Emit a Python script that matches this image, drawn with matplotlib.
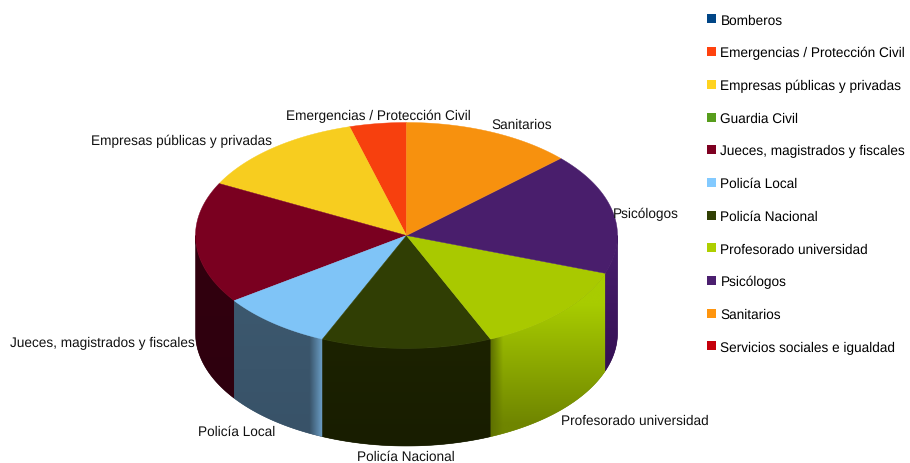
import numpy as np
import matplotlib
matplotlib.use('Agg')
import matplotlib.pyplot as plt
from matplotlib.patches import Patch, Polygon
from matplotlib.colors import to_rgb

plt.rcParams['font.family'] = ['Liberation Sans', 'DejaVu Sans']
plt.rcParams['text.hinting'] = 'none'

categories = ['Bomberos', 'Emergencias / Protección Civil', 'Empresas públicas y privadas',
              'Guardia Civil', 'Jueces, magistrados y fiscales', 'Policía Local',
              'Policía Nacional', 'Profesorado universidad', 'Psicólogos', 'Sanitarios',
              'Servicios sociales e igualdad']
values = [0, 1, 3, 0, 4, 2, 3, 3, 4, 3, 0]
colors = ['#004586', '#ff420e', '#ffd320', '#579d1c', '#7e0021', '#83caff',
          '#314004', '#aecf00', '#4b1f6f', '#ff950e', '#c5000b']

# pie geometry in pixels
cx, cy = 406.5, 236.5
rx, ry = 211, 113
depth = 97.5

# label anchors: x, y, horizontal alignment
label_pos = {
    'Emergencias / Protección Civil': (378, 116, 'center'),
    'Empresas públicas y privadas': (272, 141, 'right'),
    'Jueces, magistrados y fiscales': (195, 343, 'right'),
    'Policía Local': (236.5, 432, 'center'),
    'Policía Nacional': (406, 457, 'center'),
    'Profesorado universidad': (561, 421, 'left'),
    'Psicólogos': (613, 214, 'left'),
    'Sanitarios': (491, 125, 'left'),
}

# side face shading: colour at top, colour at bottom, highlight colour, highlight side, width
side_style = {
    'Jueces, magistrados y fiscales': ('#32000f', '#2e000e', None, None, 0),
    'Policía Local': ('#3c586e', '#385268', '#6ca0c8', 'right', 13),
    'Policía Nacional': ('#1c2200', '#181d00', None, None, 0),
    'Profesorado universidad': ('#a8cc00', '#6f8500', '#5f7200', 'left', 12),
    'Psicólogos': ('#4a1f70', '#340f52', None, None, 0),
}

fig = plt.figure(figsize=(9.1, 4.64), dpi=100)
ax = fig.add_axes([0, 0, 1, 1])
ax.set_xlim(0, 910)
ax.set_ylim(464, 0)
ax.axis('off')


def ell(t):
    return cx + rx * np.cos(t), cy - ry * np.sin(t)


total = sum(values)
start = np.pi / 2
wedges = []
for name, val, col in zip(categories, values, colors):
    if val == 0:
        continue
    end = start + val / total * 2 * np.pi
    wedges.append((name, start, end, col))
    start = end

# sides first, then the top on top of them
for name, a, b, col in wedges:
    lo, hi = max(a, np.pi), min(b, 2 * np.pi)
    if name == 'Psicólogos':
        lo, hi = a, 2 * np.pi
    if hi <= lo or name not in side_style:
        continue
    t = np.linspace(lo, hi, 120)
    x, y = ell(t)
    pts = np.vstack([np.c_[x, y], np.c_[x[::-1], y[::-1] + depth]])

    top_c, bot_c, hl, side, w = side_style[name]
    # solid base under the gradient so no white seam shows at the clip edge
    ax.add_patch(Polygon(pts, closed=True, fc=bot_c, ec=bot_c, lw=0.4, zorder=1))
    clip = Polygon(pts, closed=True, transform=ax.transData, fc='none', ec='none')
    ax.add_patch(clip)

    x0, x1 = x.min(), x.max()
    y0, y1 = y.min(), y.max() + depth
    nx, ny = max(int(x1 - x0) * 2, 2), int(y1 - y0) * 2
    gx, gy = np.meshgrid(np.linspace(x0, x1, nx), np.linspace(y0, y1, ny))
    if name == 'Profesorado universidad':
        f = np.clip((gy - 305) / (425 - 305), 0, 1)
    else:
        f = (gy - y0) / (y1 - y0)
    img = np.array(to_rgb(top_c)) * (1 - f[..., None]) + np.array(to_rgb(bot_c)) * f[..., None]
    if hl is not None:
        d = (gx - x0) if side == 'left' else (x1 - gx)
        k = np.clip(1 - d / w, 0, 1)[..., None]
        img = img * (1 - k) + np.array(to_rgb(hl)) * k
    im = ax.imshow(img, extent=(x0, x1, y1, y0), aspect='auto', interpolation='bilinear', zorder=2)
    im.set_clip_path(clip)

for name, a, b, col in wedges:
    t = np.linspace(a, b, 120)
    x, y = ell(t)
    pts = np.vstack([[cx, cy], np.c_[x, y]])
    face = np.array(to_rgb(col)) * 0.97
    ax.add_patch(Polygon(pts, closed=True, fc=face, ec=face, lw=0.3, zorder=3))

ax.set_xlim(0, 910)
ax.set_ylim(464, 0)

for name, (lx, ly, ha) in label_pos.items():
    ax.text(lx, ly, name, ha=ha, va='center', fontsize=9.8, color='#111111', zorder=5)

handles = [Patch(fc=c, ec='none', label=n) for n, c in zip(categories, colors)]
ax.legend(handles=handles, loc='upper left', bbox_to_anchor=(707 / 910, 1 - 14.5 / 464),
          frameon=False, fontsize=9.8, borderaxespad=0, borderpad=0,
          handlelength=0.66, handleheight=0.66, handletextpad=0.33, labelspacing=1.44)

fig.savefig('out.png', dpi=100)
